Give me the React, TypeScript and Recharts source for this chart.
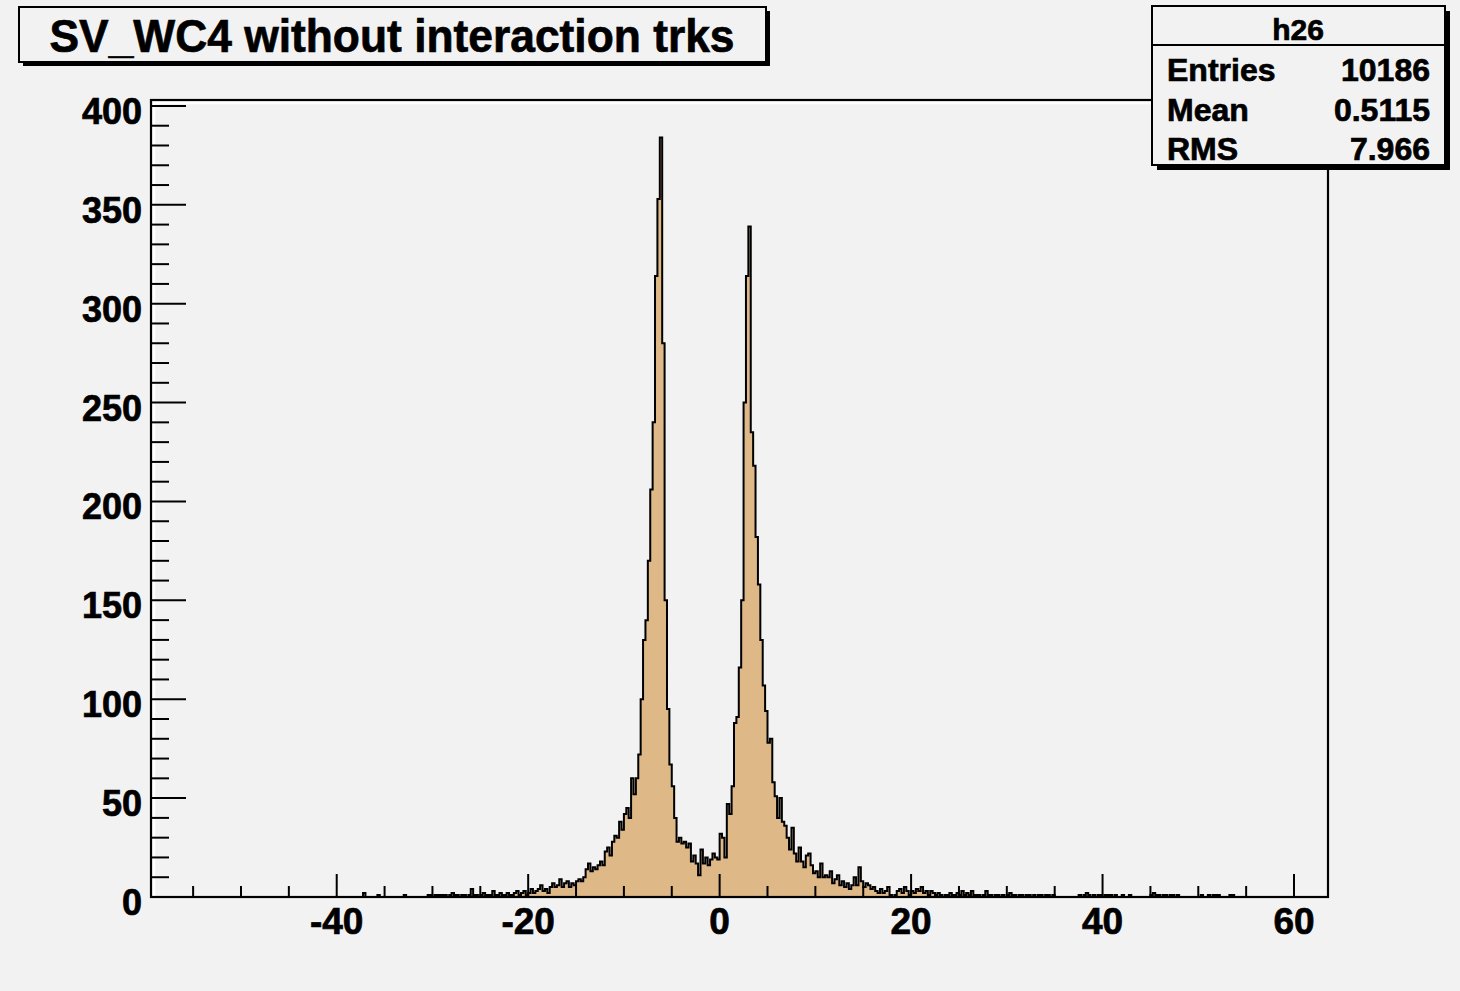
import React from "react";
import { Area, ComposedChart, ReferenceArea, XAxis, YAxis } from "recharts";

// histogram h26: SV_WC4 without interaction trks
const BIN_START = -59.25;
const BIN_WIDTH = 0.25;

// -59.25 .. -14.25
const countsLeftTail = [
  0, 0, 0, 0, 0, 0, 0, 0, 0, 0, 0, 0, 0, 0, 0, 0, 0, 0, 0, 0,
  0, 0, 0, 0, 0, 0, 0, 0, 0, 0, 0, 0, 0, 0, 0, 0, 0, 0, 0, 0,
  0, 0, 0, 0, 0, 0, 0, 0, 0, 0, 0, 0, 0, 0, 0, 0, 0, 0, 0, 0,
  0, 0, 0, 0, 0, 0, 0, 0, 0, 0, 0, 0, 0, 0, 0, 0, 0, 0, 0, 0,
  0, 0, 0, 0, 0, 0, 0, 0, 2, 0, 0, 0, 0, 0, 1, 0, 0, 0, 0, 0,
  0, 0, 0, 0, 0, 1, 0, 0, 0, 0, 0, 0, 0, 0, 0, 1, 1, 0, 1, 1,
  1, 1, 1, 0, 1, 2, 1, 1, 0, 1, 1, 0, 1, 4, 1, 1, 0, 1, 2, 1,
  1, 1, 3, 1, 1, 2, 1, 1, 2, 1, 1, 2, 3, 1, 2, 3, 1, 2, 4, 2,
  3, 4, 6, 3, 4, 2, 5, 7, 5, 6, 9, 5, 7, 8, 5, 7, 6, 8, 9, 8,
];

// -14.25 .. 15.75
const countsCore = [
  10, 14, 17, 13, 15, 14, 16, 18, 16, 23, 25, 21, 28, 31, 30, 38, 34, 42, 45, 40,
  60, 52, 60, 72, 100, 130, 140, 170, 206, 240, 314, 353, 384, 280, 150, 95, 67, 56, 40, 28,
  30, 27, 28, 25, 27, 18, 21, 17, 11, 24, 17, 20, 16, 19, 22, 20, 19, 32, 30, 20,
  47, 42, 56, 88, 91, 116, 150, 250, 314, 339, 235, 218, 182, 158, 130, 107, 94, 78, 80, 58,
  51, 40, 50, 38, 36, 30, 24, 35, 22, 18, 25, 18, 15, 21, 22, 16, 12, 13, 10, 17,
  10, 11, 10, 13, 7, 9, 11, 6, 8, 5, 7, 4, 6, 10, 6, 15, 8, 5, 7, 6,
];

// 15.75 .. 59.75
const countsRightTail = [
  4, 5, 3, 2, 4, 2, 3, 5, 1, 0, 1, 3, 4, 2, 5, 3, 1, 3, 2, 4,
  3, 5, 2, 3, 1, 3, 2, 1, 2, 1, 0, 1, 1, 2, 1, 1, 2, 1, 3, 1,
  2, 1, 3, 1, 1, 1, 0, 1, 3, 1, 1, 0, 1, 1, 0, 1, 0, 1, 2, 1,
  1, 0, 1, 1, 0, 1, 1, 0, 1, 0, 1, 1, 0, 1, 1, 0, 1, 0, 0, 0,
  0, 0, 0, 0, 0, 0, 0, 1, 0, 1, 2, 1, 0, 1, 0, 1, 1, 0, 1, 1,
  1, 0, 1, 0, 0, 1, 0, 0, 1, 0, 0, 0, 0, 0, 0, 0, 0, 1, 2, 1,
  1, 0, 1, 1, 0, 1, 1, 0, 1, 0, 0, 0, 0, 0, 0, 0, 0, 0, 1, 0,
  0, 1, 0, 1, 1, 1, 0, 0, 0, 0, 1, 1, 0, 0, 0, 0, 0, 0, 0, 0,
  0, 0, 0, 0, 0, 0, 0, 0, 0, 0, 0, 0, 0, 0, 0, 0,
];

const counts = [...countsLeftTail, ...countsCore, ...countsRightTail];

const xMajorTicks = [-40, -20, 0, 20, 40, 60];
const xMinorTicks = [-55, -50, -45, -35, -30, -25, -15, -10, -5, 5, 10, 15, 25, 30, 35, 45, 50, 55];
const yMajorTicks = [0, 50, 100, 150, 200, 250, 300, 350, 400];

const statsName = "h26";
const statsRows = [
  ["Entries", "10186"],
  ["Mean", "0.5115"],
  ["RMS", "7.966"],
];
const title = "SV_WC4 without interaction trks";

const histData = counts.map((n, i) => ({ x: BIN_START + i * BIN_WIDTH, n }));
histData.push({ x: BIN_START + counts.length * BIN_WIDTH, n: 0 });

const yMinorTicks = yMajorTicks.flatMap((v) => [10, 20, 30, 40].map((d) => v + d)).filter((v) => v < 403);
const xTicks = [...xMinorTicks, ...xMajorTicks].sort((a, b) => a - b);
const yTicks = [...yMajorTicks, ...yMinorTicks].sort((a, b) => a - b);

const BG = "#F2F2F2";
const FONT = "'Liberation Sans', Arial, Helvetica, sans-serif";
const bold = { fontFamily: FONT, fontWeight: 700, fill: "#000", stroke: "#000", strokeWidth: 0.7 } as const;

function XTick(props: any) {
  const { x, y, payload } = props;
  const major = xMajorTicks.includes(payload.value);
  return (
    <g>
      <line x1={x} x2={x} y1={y} y2={y - (major ? 23 : 11)} stroke="#000" strokeWidth={2} />
      {major && (
        <text x={x} y={y + 37} textAnchor="middle" fontSize={37} {...bold}>
          {payload.value}
        </text>
      )}
    </g>
  );
}

function YTick(props: any) {
  const { x, y, payload } = props;
  const major = yMajorTicks.includes(payload.value);
  return (
    <g>
      <line x1={x} x2={x + (major ? 35 : 18)} y1={y} y2={y} stroke="#000" strokeWidth={2} />
      {major && (
        <text x={x - 9} y={y + 18} textAnchor="end" fontSize={36} {...bold}>
          {payload.value}
        </text>
      )}
    </g>
  );
}

function Frame(props: any) {
  const { x, y, width, height } = props;
  return (
    <g>
      <line x1={x + 3} x2={x + 3} y1={y + 2} y2={y + height} stroke="#FFF" strokeWidth={2.5} />
      <line x1={x + 2} x2={x + width} y1={y + 3} y2={y + 3} stroke="#FFF" strokeWidth={2.5} />
      <rect x={x} y={y} width={width} height={height} fill="none" stroke="#000" strokeWidth={2.2} />
    </g>
  );
}

export default function App() {
  return (
    <div style={{ position: "absolute", left: 0, top: 0, width: 1460, height: 991, background: BG }}>
      <ComposedChart
        width={1460}
        height={991}
        data={histData}
        margin={{ top: 100, right: 132, bottom: 34, left: 1 }}
      >
        <XAxis
          dataKey="x"
          type="number"
          domain={[-59.4, 63.55]}
          allowDataOverflow
          ticks={xTicks}
          interval={0}
          tick={<XTick />}
          tickLine={false}
          tickSize={0}
          tickMargin={0}
          axisLine={false}
          height={60}
        />
        <YAxis
          type="number"
          domain={[0, 403]}
          allowDataOverflow
          ticks={yTicks}
          interval={0}
          tick={<YTick />}
          tickLine={false}
          tickSize={0}
          tickMargin={0}
          axisLine={false}
          width={150}
        />
        <Area
          type="stepAfter"
          dataKey="n"
          stroke="#000"
          strokeWidth={2}
          fill="#DEB887"
          fillOpacity={1}
          baseValue={0}
          dot={false}
          activeDot={false}
          isAnimationActive={false}
        />
        <ReferenceArea x1={-59.4} x2={63.55} y1={0} y2={403} ifOverflow="visible" shape={<Frame />} />
      </ComposedChart>

      <svg width={1460} height={991} style={{ position: "absolute", left: 0, top: 0, pointerEvents: "none" }}>
        <rect x={23} y={11} width={747} height={55} fill="#000" />
        <rect x={19} y={7} width={747} height={55} fill={BG} stroke="#000" strokeWidth={2} />
        <text x={392} y={52} textAnchor="middle" fontSize={46} textLength={685} lengthAdjust="spacingAndGlyphs" {...bold}>
          {title}
        </text>

        <rect x={1157} y={11} width={293} height={159} fill="#000" />
        <rect x={1152} y={6} width={293} height={159} fill={BG} stroke="#000" strokeWidth={2} />
        <line x1={1152} x2={1445} y1={45} y2={45} stroke="#000" strokeWidth={2} />
        <text x={1298} y={40} textAnchor="middle" fontSize={30} {...bold}>
          {statsName}
        </text>
        {statsRows.map(([k, v], i) => (
          <g key={k}>
            <text x={1167} y={81 + i * 39.5} fontSize={32} {...bold}>
              {k}
            </text>
            <text x={1430} y={81 + i * 39.5} textAnchor="end" fontSize={32} {...bold}>
              {v}
            </text>
          </g>
        ))}
      </svg>
    </div>
  );
}
